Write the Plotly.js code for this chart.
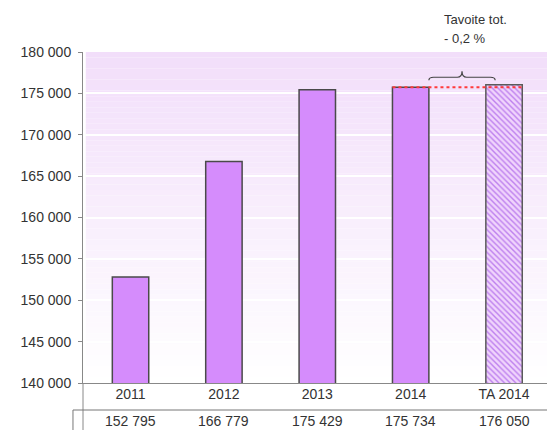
<!DOCTYPE html>
<html>
<head>
<meta charset="utf-8">
<script src="https://cdn.plot.ly/plotly-3.0.1.min.js"></script>
<style>
  body { margin: 0; background: #fff; }
  #chart { width: 547px; height: 430px; }
</style>
</head>
<body>
<div id="chart"></div>
<script>
// categories and values
const categories = ["2011", "2012", "2013", "2014", "TA 2014"];
const values = [152795, 166779, 175429, 175734, 176050];
const targetNote = ["Tavoite tot.", "- 0,2 %"];

const barWidth = 0.39;
const xs = categories.map((c, i) => i);

// format 152795 -> "152 795"
function fmt(v) {
    return String(v).replace(/\B(?=(\d{3})+(?!\d))/g, " ");
}

const actual = {
    type: 'bar',
    x: xs.slice(0, 4),
    y: values.slice(0, 4),
    width: barWidth,
    marker: { color: '#d58cfc', line: { color: '#4a4a4a', width: 1.5 } },
    hoverinfo: 'skip'
};

const target = {
    type: 'bar',
    x: xs.slice(4),
    y: values.slice(4),
    width: barWidth,
    marker: {
        color: '#f0d4fc',
        line: { color: '#5a5a5a', width: 1.5 },
        pattern: { shape: '\\', fgcolor: '#bd80ee', bgcolor: '#f0d4fc', size: 4, solidity: 0.35 }
    },
    hoverinfo: 'skip'
};

// background gradient lavender -> white, as thin bands
let shapes = [];
const nBands = 60;
for (let k = 0; k < nBands; k++) {
    let t = k / (nBands - 1);
    let r = Math.round(242 + (255 - 242) * t);
    let g = Math.round(222 + (255 - 222) * t);
    let b = Math.round(250 + (255 - 250) * t);
    shapes.push({
        type: 'rect', xref: 'paper', yref: 'paper', layer: 'below',
        x0: 0.006, x1: 1, y0: 1 - (k + 1) / nBands, y1: 1 - k / nBands,
        fillcolor: 'rgb(' + r + ',' + g + ',' + b + ')', line: { width: 0 }
    });
}

// red dotted level line from the 2014 bar to the target bar
shapes.push({
    type: 'line', xref: 'x', yref: 'y',
    x0: 3 - barWidth / 2, x1: 4 + barWidth / 2, y0: values[3], y1: values[3],
    line: { color: '#ff3b3b', width: 2, dash: 'dot' }
});

// curly brace between the two bars
const xa = 3 + barWidth / 2, xb = 4 - barWidth / 2 + 0.1, xm = (xa + xb) / 2;
const y0 = 176580, y1 = 176950, yp = 177680, c = 0.05;
shapes.push({
    type: 'path', xref: 'x', yref: 'y',
    path: 'M' + xa + ',' + y0 + ' Q' + xa + ',' + y1 + ' ' + (xa + c) + ',' + y1 +
          ' L' + (xm - c) + ',' + y1 + ' Q' + xm + ',' + y1 + ' ' + xm + ',' + yp +
          ' Q' + xm + ',' + y1 + ' ' + (xm + c) + ',' + y1 +
          ' L' + (xb - c) + ',' + y1 + ' Q' + xb + ',' + y1 + ' ' + xb + ',' + y0,
    line: { color: '#444', width: 1.2 }
});

// table lines under the axis
shapes.push({ type: 'line', xref: 'paper', yref: 'paper', x0: 0, x1: 0, y0: 0, y1: -0.145, line: { color: '#888', width: 1 } });
shapes.push({ type: 'line', xref: 'paper', yref: 'paper', x0: -0.0216, x1: 1, y0: -0.0816, y1: -0.0816, line: { color: '#777', width: 1 } });
shapes.push({ type: 'line', xref: 'paper', yref: 'paper', x0: -0.0216, x1: -0.0216, y0: -0.0816, y1: -0.145, line: { color: '#777', width: 1 } });

let annotations = values.map((v, i) => ({
    x: i, y: -0.116, xref: 'x', yref: 'paper', text: fmt(v), showarrow: false,
    xanchor: 'center', yanchor: 'middle', font: { size: 14, color: '#333' }
}));
annotations.push({
    x: 0.774, y: 1.097, xref: 'paper', yref: 'paper', text: targetNote[0], showarrow: false,
    xanchor: 'left', yanchor: 'middle', font: { size: 13, color: '#333' }
});
annotations.push({
    x: 0.774, y: 1.04, xref: 'paper', yref: 'paper', text: targetNote[1], showarrow: false,
    xanchor: 'left', yanchor: 'middle', font: { size: 13, color: '#333' }
});

var layout = {
    width: 547, height: 430,
    margin: { l: 83, r: 0, t: 52, b: 47 },
    paper_bgcolor: '#fff',
    plot_bgcolor: '#fff',
    showlegend: false,
    separators: ', ',
    font: { family: 'Liberation Sans, Arial, sans-serif', color: '#333', size: 14 },
    xaxis: {
        type: 'linear', range: [-0.509, 4.46],
        tickvals: xs, ticktext: categories,
        showgrid: false, zeroline: false,
        showline: true, linecolor: '#888', linewidth: 1,
        ticks: '', ticklabelstandoff: -2, tickfont: { size: 14, color: '#333' }
    },
    yaxis: {
        range: [140000, 180000], dtick: 5000, tickformat: ',d',
        showgrid: true, gridcolor: '#ffffff', gridwidth: 2,
        zeroline: false, showline: true, linecolor: '#888', linewidth: 1,
        ticks: 'outside', ticklen: 4, tickcolor: '#888', ticklabelstandoff: 4,
        tickfont: { size: 14, color: '#333' }
    },
    shapes: shapes,
    annotations: annotations
};

Plotly.newPlot('chart', [actual, target], layout, { displayModeBar: false, staticPlot: true });
</script>
</body>
</html>
